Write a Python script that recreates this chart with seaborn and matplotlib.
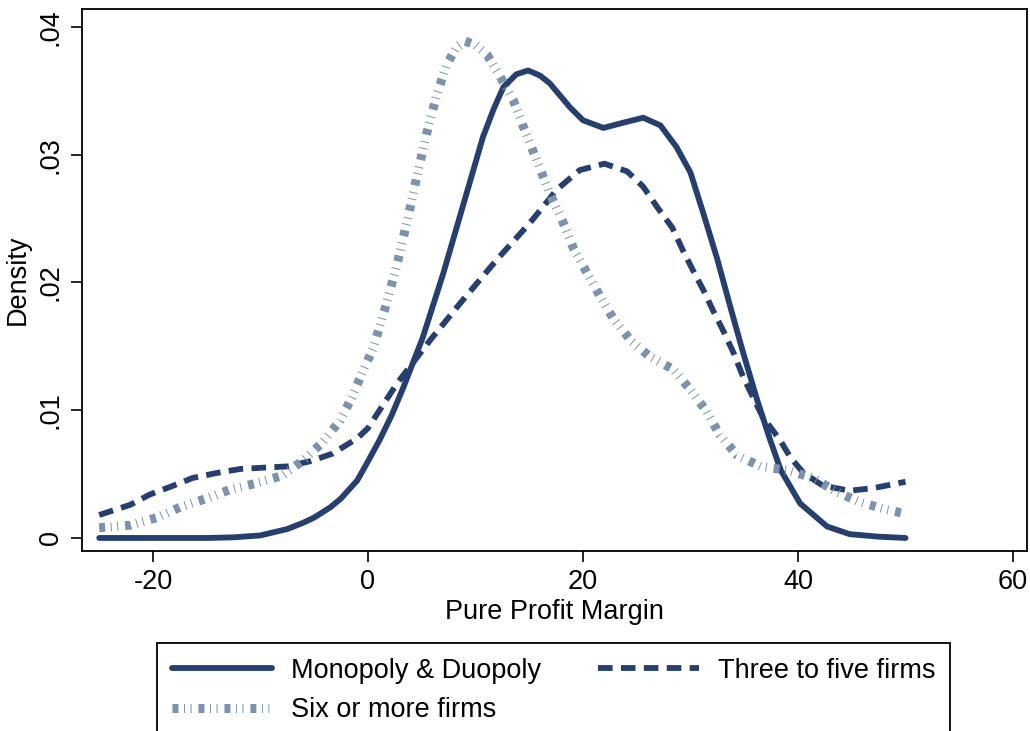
import numpy as np
import pandas as pd
import matplotlib
matplotlib.use("Agg")
import matplotlib.pyplot as plt
import seaborn as sns

# Kernel density estimates of pure profit margin by market structure
margin_mono = [-25, -20, -15, -12.5, -10, -8.5, -7.5, -6, -5, -3.5, -2.5, -1, 0,
               1.1, 2.2, 3.3, 5.1, 7.0, 8.8, 10.7, 11.7, 12.6, 13.8, 14.9, 16.0,
               16.9, 18.8, 20.0, 21.9, 23.7, 25.6, 27.2, 28.7, 30.0, 31.2, 32.5,
               33.7, 34.9, 36.2, 37.4, 38.4, 40.2, 42.7, 44.8, 47.5, 50]
density_mono = [0.0, 0.0, 0.0, 0.00005, 0.0002, 0.0005, 0.0007, 0.0012, 0.0016,
                0.0024, 0.0031, 0.0045, 0.0060, 0.0077, 0.0096, 0.0118, 0.0157,
                0.0207, 0.0259, 0.0314, 0.0336, 0.0353, 0.0363, 0.0366, 0.0362,
                0.0356, 0.0337, 0.0327, 0.0321, 0.0325, 0.0329, 0.0323, 0.0306,
                0.0286, 0.0254, 0.0218, 0.0181, 0.0145, 0.0108, 0.0077, 0.0053,
                0.0027, 0.0009, 0.0003, 0.0001, 0.0]

margin_three = [-25, -22.1, -20.3, -18.4, -16.3, -14, -11.9, -9.8, -7.5, -5.4,
                -3.3, -1, 0, 2.7, 5.8, 8.8, 12.0, 15.1, 17.6, 19.7, 22.0, 24.1,
                25.6, 26.9, 28.3, 29.3, 30.2, 31.2, 32.1, 33.0, 34.0, 34.9, 36.7,
                38.3, 39.3, 40.5, 42.3, 44.8, 47.0, 50]
density_three = [0.0018, 0.0026, 0.0034, 0.0040, 0.0047, 0.0051, 0.0054, 0.0055,
                 0.0056, 0.0060, 0.0066, 0.0078, 0.0086, 0.0121, 0.0155, 0.0186,
                 0.0218, 0.0247, 0.0273, 0.0288, 0.0293, 0.0287, 0.0275, 0.0259,
                 0.0243, 0.0225, 0.0210, 0.0194, 0.0178, 0.0163, 0.0145, 0.0126,
                 0.0095, 0.0077, 0.0063, 0.0051, 0.0041, 0.0037, 0.0039, 0.0044]

margin_six = [-25, -22.1, -19.6, -17.5, -15, -12.8, -10.3, -7.9, -6, -4.2, -2.6,
              -1.5, -0.5, 0.5, 1.6, 2.7, 3.7, 4.6, 5.5, 6.4, 7.3, 8.2, 9.0, 10.0,
              11.1, 12.3, 13.5, 14.4, 15.3, 16.9, 18.1, 19.1, 20.4, 21.6, 22.8,
              24.4, 26.2, 28.4, 30.0, 31.5, 32.7, 34.3, 36.5, 39.0, 41.4, 43.6,
              45.8, 48.3, 50]
density_six = [0.0008, 0.0010, 0.0016, 0.0024, 0.0031, 0.0038, 0.0043, 0.0049,
               0.0061, 0.0075, 0.0092, 0.0110, 0.0130, 0.0149, 0.0180, 0.0214,
               0.0250, 0.0285, 0.0318, 0.0347, 0.0370, 0.0384, 0.0389, 0.0386,
               0.0378, 0.0361, 0.0343, 0.0323, 0.0304, 0.0270, 0.0248, 0.0227,
               0.0207, 0.0189, 0.0172, 0.0155, 0.0142, 0.0132, 0.0116, 0.0099,
               0.0081, 0.0065, 0.0056, 0.0053, 0.0047, 0.0036, 0.0028, 0.0022,
               0.0019]

labels = ["Monopoly & Duopoly", "Three to five firms", "Six or more firms"]
x_ticks = [-20, 0, 20, 40, 60]
y_ticks = [0, 0.01, 0.02, 0.03, 0.04]
y_tick_labels = ["0", ".01", ".02", ".03", ".04"]

sns.set_style("ticks")
plt.rcParams["font.family"] = ["Liberation Sans", "DejaVu Sans"]
plt.rcParams["lines.scale_dashes"] = False
plt.rcParams["text.color"] = "black"
plt.rcParams["axes.labelcolor"] = "black"

navy = "#263f6e"
slate = "#7d93ab"
fs = 19.5

fig = plt.figure(figsize=(10.3, 7.31), dpi=100)
ax = fig.add_axes([82 / 1030, 1 - 551 / 731, (1027 - 82) / 1030, (551 - 9) / 731])

df_mono = pd.DataFrame({"x": margin_mono, "y": density_mono})
df_three = pd.DataFrame({"x": margin_three, "y": density_three})
df_six = pd.DataFrame({"x": margin_six, "y": density_six})

sns.lineplot(data=df_mono, x="x", y="y", ax=ax, color=navy, linewidth=4.2,
             solid_capstyle="round", solid_joinstyle="round", label=labels[0],
             legend=False, sort=False)
sns.lineplot(data=df_three, x="x", y="y", ax=ax, color=navy, linewidth=4.2,
             linestyle=(0, (10.5, 6)), dash_capstyle="butt", label=labels[1],
             legend=False, sort=False)
sns.lineplot(data=df_six, x="x", y="y", ax=ax, color=slate, linewidth=6.5,
             linestyle=(0, (4.3, 4.0, 0.7, 4.0, 0.7, 5.0)), dash_capstyle="butt",
             label=labels[2], legend=False, sort=False)

ax.set_xlim(-26.6, 61.3)
ax.set_ylim(-0.00102, 0.04141)
ax.set_xticks(x_ticks)
ax.set_xticklabels([str(t) for t in x_ticks])
ax.set_yticks(y_ticks)
ax.set_yticklabels(y_tick_labels, rotation=90, va="center")

for side in ["left", "right", "top", "bottom"]:
    ax.spines[side].set_visible(True)
    ax.spines[side].set_linewidth(1.3)
    ax.spines[side].set_color("black")

ax.tick_params(axis="both", direction="out", length=8, width=1.2, colors="black",
               labelsize=fs, pad=5)
ax.set_xlabel("Pure Profit Margin", fontsize=fs, labelpad=3)
ax.set_ylabel("Density", fontsize=fs, labelpad=5)

lines = ax.get_lines()
handles = [lines[0], lines[2], lines[1]]
leg_labels = [labels[0], labels[2], labels[1]]
leg = fig.legend(handles, leg_labels, loc="upper left",
                 bbox_to_anchor=(157 / 1030, 0.0, (950 - 157) / 1030, 1 - 643 / 731),
                 mode="expand", ncol=2, fontsize=fs, frameon=True, fancybox=False,
                 shadow=False, borderaxespad=0, borderpad=0.55, labelspacing=0.5,
                 handlelength=3.7, handletextpad=0.7)
leg.get_frame().set_edgecolor("black")
leg.get_frame().set_linewidth(1.3)
leg.get_frame().set_alpha(1)

fig.savefig("out.png", dpi=100)
